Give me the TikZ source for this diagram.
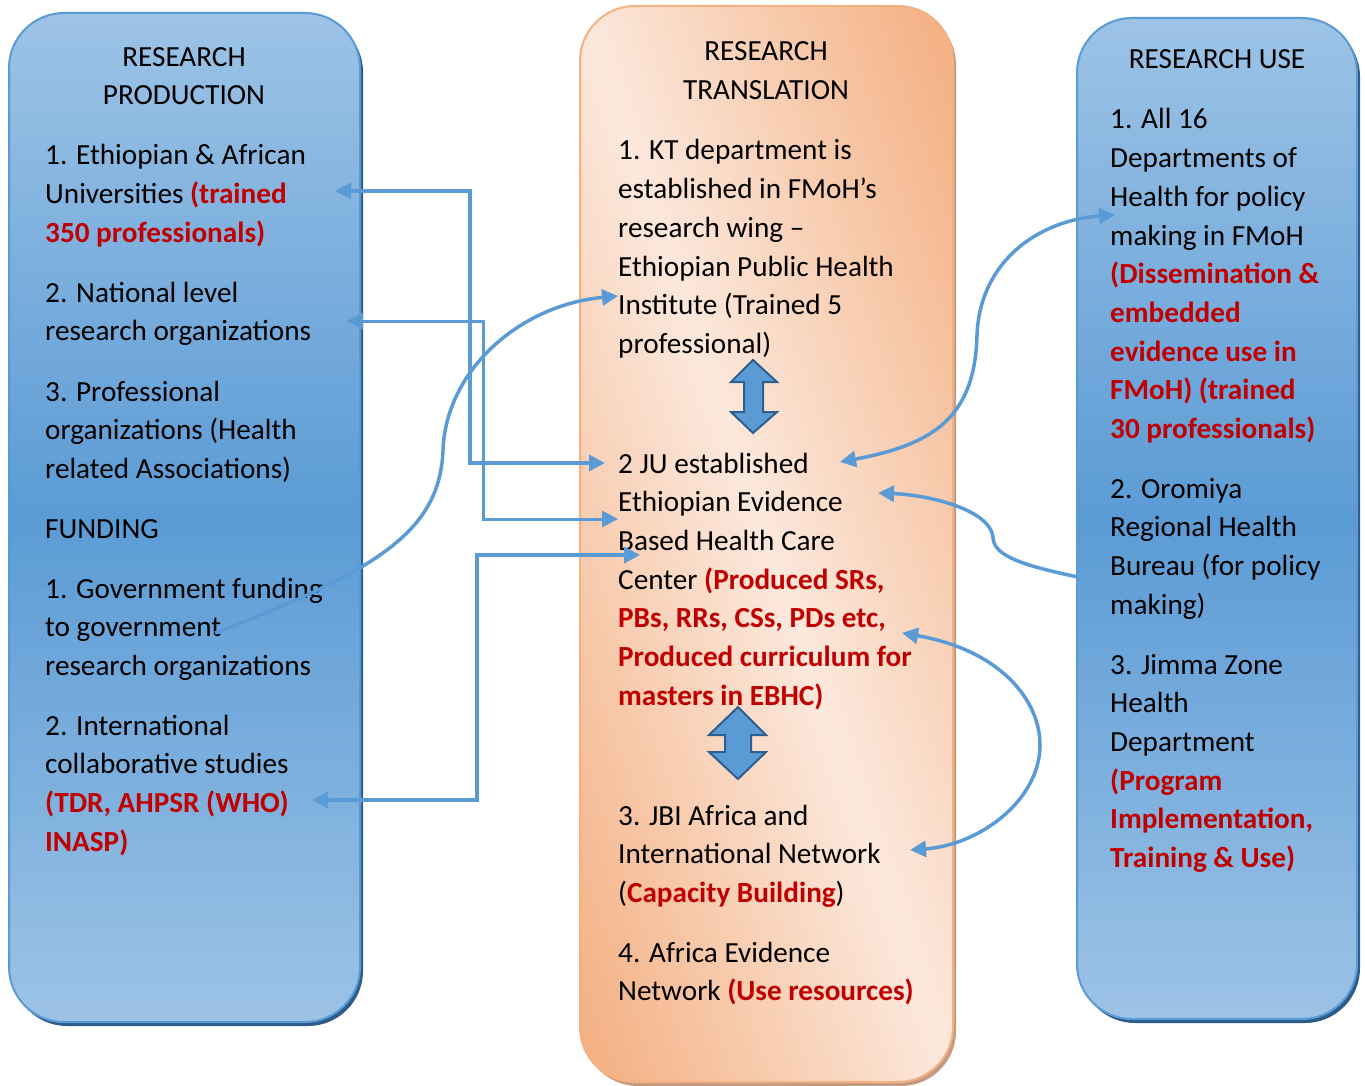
\documentclass[tikz,border=0pt]{standalone}
\usepackage{fontspec}
\setmainfont{Carlito}
\usetikzlibrary{arrows.meta}
\definecolor{dred}{HTML}{C00000}
\definecolor{blueL}{HTML}{9DC3E6}
\definecolor{blueD}{HTML}{5B9BD5}
\definecolor{blueS}{HTML}{2E5C8A}
\definecolor{peachL}{HTML}{FCE8DC}
\definecolor{peachD}{HTML}{F3AE7F}
\definecolor{peachS}{HTML}{C49A80}
\definecolor{peachB}{HTML}{F4B183}
\definecolor{lineblue}{HTML}{5B9BD5}
\definecolor{arrowedge}{HTML}{2F5F8E}
\newcommand{\rd}[1]{{\color{dred}\bfseries #1}}
\newcommand{\blk}[1]{\parbox[t]{320pt}{\raggedright #1}}
\tikzset{
  txt/.style={anchor=base west, inner sep=0pt, font=\fontsize{29.2}{38.7}\selectfont},
  ttl/.style={anchor=base, inner sep=0pt, font=\fontsize{29.2}{38.7}\selectfont},
  conn/.style={draw=lineblue, line width=3.5pt, {Triangle[length=16pt,width=16pt]}-{Triangle[length=16pt,width=16pt]}},
  connone/.style={draw=lineblue, line width=3.5pt, -{Triangle[length=16pt,width=16pt]}},
  dblarrow/.style={fill=blueD, draw=arrowedge, line width=2pt, line join=miter},
  bluebox/.style={draw=blueD, line width=2pt, top color=blueL, bottom color=blueL, middle color=blueD, rounded corners=55pt},
}
\begin{document}
\begin{tikzpicture}[x=1pt,y=-1pt]
\useasboundingbox (0,0) rectangle (1365,1086);
\fill[white] (0,0) rectangle (1365,1086);

% ---- left box
\fill[blueS, rounded corners=55pt] (12,17) rectangle (363,1026);
\path[bluebox] (9,13) rectangle (360,1022);

% ---- right box
\fill[blueS, rounded corners=55pt] (1080,22) rectangle (1360,1023);
\path[bluebox] (1077,18) rectangle (1357,1019);

% ---- centre box
\fill[peachS, rounded corners=55pt] (583,10) rectangle (956,1086);
\begin{scope}
  \clip[rounded corners=55pt] (580,6) rectangle (953,1082);
  \shade[top color=peachD, bottom color=peachD, middle color=peachL,
         transform canvas={shift={(766.5,544)},rotate=-70.9}] (-620,-352) rectangle (620,352);
\end{scope}
\draw[peachB, line width=2pt, rounded corners=55pt] (580,6) rectangle (953,1082);

% ---- double block arrows
\draw[dblarrow] (753,360) -- (777,382) -- (763,382) -- (763,412) -- (777,412) -- (753,433)
  -- (731,412) -- (744,412) -- (744,382) -- (731,382) -- cycle;
\draw[dblarrow] (738,707) -- (766,735) -- (751,735) -- (751,752) -- (766,752) -- (738,779)
  -- (709,752) -- (725,752) -- (725,735) -- (709,735) -- cycle;

% ---- left texts
\node[ttl] (ltitle1) at (184,67) {RESEARCH};
\node[ttl] (ltitle2) at (184,105) {PRODUCTION};
\node[txt] (l1) at (45,165) {\blk{1. Ethiopian \& African\\Universities \rd{(trained\\350 professionals)}}};
\node[txt] (l2) at (45,302) {\blk{2. National level\\research organizations}};
\node[txt] (l3) at (45,401) {\blk{3. Professional\\organizations (Health\\related Associations)}};
\node[txt] (l4) at (45,538) {FUNDING};
\node[txt] (l5) at (45,598) {\blk{1. Government funding\\to government\\research organizations}};
\node[txt] (l6) at (45,735) {\blk{2. International\\collaborative studies\\\rd{(TDR, AHPSR (WHO)\\INASP)}}};

% ---- centre texts
\node[ttl] (ctitle1) at (766,61) {RESEARCH};
\node[ttl] (ctitle2) at (766,100) {TRANSLATION};
\node[txt] (c1) at (618,160) {\blk{1. KT department is\\established in FMoH’s\\research wing –\\Ethiopian Public Health\\Institute (Trained 5\\professional)}};
\node[txt] (c2) at (618,473) {\blk{2 JU established\\Ethiopian Evidence\\Based Health Care\\Center \rd{(Produced SRs,\\PBs, RRs, CSs, PDs etc,\\Produced curriculum for\\masters in EBHC)}}};
\node[txt] (c3) at (618,825) {\blk{3. JBI Africa and\\International Network\\(\rd{Capacity Building})}};
\node[txt] (c4) at (618,962) {\blk{4. Africa Evidence\\Network \rd{(Use resources)}}};

% ---- right texts
\node[ttl] (rtitle) at (1217,69) {RESEARCH USE};
\node[txt] (r1) at (1110,129) {\blk{1. All 16\\Departments of\\Health for policy\\making in FMoH\\\rd{(Dissemination \&\\embedded\\evidence use in\\FMoH) (trained\\30 professionals)}}};
\node[txt] (r2) at (1110,498) {\blk{2. Oromiya\\Regional Health\\Bureau (for policy\\making)}};
\node[txt] (r3) at (1110,674) {\blk{3. Jimma Zone\\Health\\Department\\\rd{(Program\\Implementation,\\Training \& Use)}}};

% ---- connector end points
\coordinate (e1a) at (335,191);
\coordinate (e1b) at (605,463);
\coordinate (e2a) at (347,321);
\coordinate (e2b) at (618,519);
\coordinate (e3a) at (312,800);
\coordinate (e3b) at (640,555);
\coordinate (s4) at (215,633);
\coordinate (e4) at (618,296);
\coordinate (e5a) at (840,462);
\coordinate (e5b) at (1115,215);
\coordinate (s6) at (1078,577);
\coordinate (e6) at (878,493);
\coordinate (e7a) at (902,633);
\coordinate (e7b) at (910,850);

% ---- elbow connectors
\draw[conn] (e1a) -- (470,191) -- (470,463) -- (e1b);
\draw[conn, line width=3pt] (e2a) -- (483,321) -- (483,519) -- (e2b);
\draw[conn] (e3a) -- (477,800) -- (477,555) -- (e3b);

% ---- curved connectors
\draw[connone] (s4) .. controls (380,570) and (440,530) .. (443,450)
  .. controls (446,370) and (520,305) .. (e4);
\draw[conn] (e5a) .. controls (930,445) and (975,420) .. (977,335)
  .. controls (980,260) and (1040,220) .. (e5b);
\draw[connone] (s6) .. controls (1020,565) and (993,555) .. (993,537)
  .. controls (990,510) and (930,495) .. (e6);
\draw[conn] (e7a) .. controls (1000,650) and (1040,700) .. (1040,745)
  .. controls (1040,800) and (980,845) .. (e7b);
\end{tikzpicture}
\end{document}
